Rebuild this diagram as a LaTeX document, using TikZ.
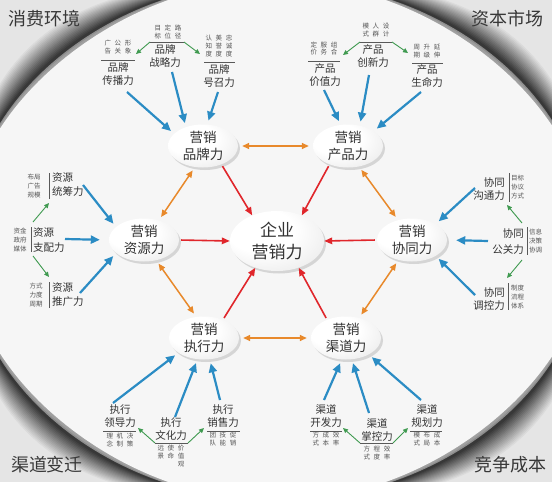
\documentclass[tikz,border=0pt]{standalone}
\usepackage{fontspec}
\setmainfont{Noto Sans CJK SC}
\usetikzlibrary{arrows.meta,shapes.geometric,shadows}
\definecolor{txt}{HTML}{333333}
\definecolor{subtxt}{HTML}{555555}
\definecolor{bluec}{HTML}{2B8CC4}
\definecolor{redc}{HTML}{E0262B}
\definecolor{orangec}{HTML}{E8892B}
\definecolor{greenc}{HTML}{3F9A50}
\definecolor{fieldc}{HTML}{F6F6F6}
\pgfdeclareradialshading{ovalshade}{\pgfpoint{-12bp}{12bp}}{color(0bp)=(white); color(18bp)=(white); color(40bp)=(black!9); color(62bp)=(black!30)}
\tikzset{
  oval/.style={ellipse, minimum width=70pt, minimum height=43pt, inner sep=0pt, align=center,
    text=txt, font=\fontsize{13.5}{17}\selectfont, shading=ovalshade,
    drop shadow={opacity=0.28, shadow xshift=2pt, shadow yshift=-2.5pt}},
  bigoval/.style={oval, minimum width=94pt, minimum height=60pt, font=\fontsize{17}{22}\selectfont},
  lab/.style={align=center, text=txt, font=\fontsize{10.5}{13}\selectfont, inner sep=0pt},
  tiny/.style={align=center, text=subtxt, font=\fontsize{6.5}{7.5}\selectfont, inner sep=0pt},
  tinylist/.style={align=center, text=subtxt, font=\fontsize{6.5}{9}\selectfont, inner sep=0pt},
  sepline/.style={draw=black!65, line width=0.6pt},
  barrow/.style={draw=bluec, line width=2.2pt, -{Triangle[length=9pt,width=8pt]}, shorten >=4pt},
  rarrow/.style={draw=redc, line width=1.6pt, -{Triangle[length=8pt,width=6.5pt]}, shorten <=2pt},
  oarrow/.style={draw=orangec, line width=1.5pt, {Triangle[length=7pt,width=6pt]}-{Triangle[length=7pt,width=6pt]}, shorten >=4pt, shorten <=4pt},
  garrow/.style={draw=greenc, line width=0.9pt, -{Triangle[length=5pt,width=4.5pt]}},
  cornertxt/.style={font=\fontsize{18}{18}\selectfont, text=black!78, inner sep=0pt}
}
\newcommand{\trio}[1]{\begin{tabular}{@{}c@{\hspace{3.6pt}}c@{\hspace{3.6pt}}c@{}}#1\end{tabular}}
\begin{document}
\begin{tikzpicture}[x=1pt,y=-1pt]
\useasboundingbox (0,0) rectangle (552,482);
% background
\begin{scope}
\clip (0,0) rectangle (552,482);
\fill[black!10] (0,0) rectangle (552,482);
\foreach \i in {18,17,...,1}{
  \pgfmathsetmacro\w{1.5*\i}
  \pgfmathtruncatemacro\c{82-4*\i}
  \fill[black!\c] plot[domain=0:360, samples=241, variable=\t]
    ({277+(312+\w*pow(sin(2*\t),2))*cos(\t)}, {241+(260+\w*pow(sin(2*\t),2))*sin(\t)}) -- cycle;
}
\foreach \j/\o in {3/0.25,2/0.45,1/0.7}{
  \fill[black!30, opacity=\o] plot[domain=0:360, samples=241, variable=\t]
    ({277+(312-1.6*\j*pow(sin(2*\t),2))*cos(\t)}, {241+(260-1.6*\j*pow(sin(2*\t),2))*sin(\t)}) -- cycle;
}
\fill[fieldc] plot[domain=0:360, samples=241, variable=\t]
    ({277+(312-6*pow(sin(2*\t),2))*cos(\t)}, {241+(260-6*pow(sin(2*\t),2))*sin(\t)}) -- cycle;
\end{scope}
% corner texts
\node[cornertxt] (k1) at (45,19) {消费环境};
\node[cornertxt] (k2) at (507,19) {资本市场};
\node[cornertxt] (k3) at (47,465) {渠道变迁};
\node[cornertxt] (k4) at (510,465) {竞争成本};
% ovals
\node[bigoval] (C) at (277,241) {企业\\营销力};
\node[oval] (B) at (203,146) {营销\\品牌力};
\node[oval] (P) at (348,146) {营销\\产品力};
\node[oval] (R) at (144,240) {营销\\资源力};
\node[oval] (X) at (412,240) {营销\\协同力};
\node[oval] (E) at (204,338) {营销\\执行力};
\node[oval] (Q) at (346,338) {营销\\渠道力};
% red arrows
\draw[rarrow] (B.-45) -- (C.134);
\draw[rarrow] (P.-135) -- (C.46);
\draw[rarrow] (R.east) -- (C.west);
\draw[rarrow] (X.west) -- (C.east);
\draw[rarrow] (E.44) -- (C.-129);
\draw[rarrow] (Q.136) -- (C.-51);
% orange arrows
\draw[oarrow] (B.east) -- (P.west);
\draw[oarrow] (B.-111) -- (R.53);
\draw[oarrow] (P.-62) -- (X.125);
\draw[oarrow] (R.-59) -- (E.110);
\draw[oarrow] (X.-124) -- (Q.57);
\draw[oarrow] (E.east) -- (Q.west);
% ---------- top left: brand ----------
\node[lab] (bz) at (165,56.5) {品牌\\战略力};
\node[tiny] (bzs) at (168,32.5) {\trio{目&定&路\\标&位&径}};
\coordinate (bzl) at (150,42); \coordinate (bzr) at (184,42);
\draw[sepline] (bzl) -- (bzr);
\node[lab] (bc) at (118,74.5) {品牌\\传播力};
\node[tiny] (bcs) at (118,48) {\trio{广&公&形\\告&关&象}};
\coordinate (bcl) at (101,60); \coordinate (bcr) at (135,60);
\draw[sepline] (bcl) -- (bcr);
\node[lab] (bh) at (219,76) {品牌\\号召力};
\node[tiny] (bhs) at (219,47) {\trio{认&美&忠\\知&誉&诚\\度&度&度}};
\coordinate (bhl) at (204,62); \coordinate (bhr) at (235,62);
\draw[sepline] (bhl) -- (bhr);
\coordinate (gb1) at (136,54); \coordinate (gb2) at (200,54);
\draw[garrow] (bzl) -- (gb1);
\draw[garrow] (bzr) -- (gb2);
\coordinate (tb1) at (127,92); \draw[barrow] (tb1) -- (B.157);
\coordinate (tb2) at (172,72); \draw[barrow] (tb2) -- (B.132);
\coordinate (tb3) at (218,92); \draw[barrow] (tb3) -- (B.79);
% ---------- top right: product ----------
\node[lab] (px) at (373,56.5) {产品\\创新力};
\node[tiny] (pxs) at (376,31) {\trio{模&人&设\\式&群&计}};
\coordinate (pxl) at (360,42); \coordinate (pxr) at (392,42);
\draw[sepline] (pxl) -- (pxr);
\node[lab] (pj) at (325,75.5) {产品\\价值力};
\node[tiny] (pjs) at (324,49.5) {\trio{定&服&组\\价&务&合}};
\coordinate (pjl) at (308,61); \coordinate (pjr) at (340,61);
\draw[sepline] (pjl) -- (pjr);
\node[lab] (ps) at (427,76.5) {产品\\生命力};
\node[tiny] (pss) at (427,52) {\trio{周&升&延\\期&级&伸}};
\coordinate (psl) at (412,63); \coordinate (psr) at (443,63);
\draw[sepline] (psl) -- (psr);
\coordinate (gp1) at (343,55); \coordinate (gp2) at (408,53);
\draw[garrow] (pxl) -- (gp1);
\draw[garrow] (pxr) -- (gp2);
\coordinate (tp1) at (324,90); \draw[barrow] (tp1) -- (P.109);
\coordinate (tp2) at (369,75); \draw[barrow] (tp2) -- (P.60);
\coordinate (tp3) at (421,92); \draw[barrow] (tp3) -- (P.30);
% ---------- left: resource ----------
\node[lab, anchor=west, align=left, font=\fontsize{10.5}{14}\selectfont] (rt) at (52,185) {资源\\统筹力};
\node[tinylist] (rts) at (34,186) {布局\\广告\\规模};
\draw[sepline] (49,173) -- (49,199);
\node[lab, anchor=west, align=left, font=\fontsize{10.5}{15}\selectfont] (rz) at (33,240.5) {资源\\支配力};
\node[tinylist] (rzs) at (20,239.5) {资金\\政府\\媒体};
\draw[sepline] (31,227) -- (31,252);
\node[lab, anchor=west, align=left, font=\fontsize{10.5}{14}\selectfont] (rp) at (52,295) {资源\\推广力};
\node[tinylist] (rps) at (36,295) {方式\\力度\\周期};
\draw[sepline] (49,282) -- (49,308);
\coordinate (gr0) at (33,222); \coordinate (gr1) at (49,203);
\coordinate (gr2) at (33,256); \coordinate (gr3) at (49,277);
\draw[garrow] (gr0) -- (gr1);
\draw[garrow] (gr2) -- (gr3);
\coordinate (tr1) at (83,185); \draw[barrow] (tr1) -- (R.155);
\coordinate (tr2) at (65,239); \draw[barrow, shorten >=9pt] (tr2) -- (R.west);
\coordinate (tr3) at (80,293); \draw[barrow] (tr3) -- (R.205);
% ---------- right: cooperation ----------
\node[lab, anchor=east, align=right, font=\fontsize{10.5}{13}\selectfont] (xg) at (505,189) {协同\\沟通力};
\node[tinylist, anchor=west] (xgs) at (511,187) {目标\\协议\\方式};
\draw[sepline] (509,173) -- (509,202);
\node[lab, anchor=east, align=right, font=\fontsize{10.5}{16}\selectfont] (xk) at (524,241.5) {协同\\公关力};
\node[tinylist, anchor=west] (xks) at (529,241) {信息\\决策\\协调};
\draw[sepline] (527,227) -- (527,255);
\node[lab, anchor=east, align=right, font=\fontsize{10.5}{13}\selectfont] (xt) at (505,299) {协同\\调控力};
\node[tinylist, anchor=west] (xts) at (511,297) {制度\\流程\\体系};
\draw[sepline] (508,283) -- (508,310);
\coordinate (gx0) at (522,223); \coordinate (gx1) at (507,205);
\coordinate (gx2) at (522,260); \coordinate (gx3) at (507,278);
\draw[garrow] (gx0) -- (gx1);
\draw[garrow] (gx2) -- (gx3);
\coordinate (tx1) at (475,188); \draw[barrow] (tx1) -- (X.34);
\coordinate (tx2) at (488,241); \draw[barrow, shorten >=9pt] (tx2) -- (X.east);
\coordinate (tx3) at (475,295); \draw[barrow] (tx3) -- (X.-34);
% ---------- bottom left: execution ----------
\node[lab] (el) at (120,416.5) {执行\\领导力};
\coordinate (ell) at (103,431); \coordinate (elr) at (136,431);
\draw[sepline] (ell) -- (elr);
\node[tiny] (els) at (120,440.5) {\trio{理&机&决\\念&制&策}};
\node[lab] (ew) at (171,429.5) {执行\\文化力};
\coordinate (ewl) at (155,443); \coordinate (ewr) at (188,443);
\draw[sepline] (ewl) -- (ewr);
\node[tiny] (ews) at (171,457) {\trio{远&使&价\\景&命&值\\&&观}};
\node[lab] (ex) at (223,416.5) {执行\\销售力};
\coordinate (exl) at (207,431); \coordinate (exr) at (240,431);
\draw[sepline] (exl) -- (exr);
\node[tiny] (exs) at (223,440) {\trio{团&技&促\\队&能&销}};
\coordinate (ge1) at (138,428); \coordinate (ge2) at (204,428);
\draw[garrow] (ewl) -- (ge1);
\draw[garrow] (ewr) -- (ge2);
\coordinate (te1) at (113,403); \draw[barrow] (te1) -- (E.210);
\coordinate (te2) at (175,417); \draw[barrow] (te2) -- (E.253);
\coordinate (te3) at (220,400); \draw[barrow] (te3) -- (E.-75);
% ---------- bottom right: channel ----------
\node[lab] (qk) at (326,416.5) {渠道\\开发力};
\coordinate (qkl) at (310,431); \coordinate (qkr) at (342,431);
\draw[sepline] (qkl) -- (qkr);
\node[tiny] (qks) at (326,440) {\trio{方&成&效\\式&本&率}};
\node[lab] (qz) at (377,430) {渠道\\掌控力};
\coordinate (qzl) at (360,443); \coordinate (qzr) at (393,443);
\draw[sepline] (qzl) -- (qzr);
\node[tiny] (qzs) at (377,453.5) {\trio{方&程&效\\式&度&率}};
\node[lab] (qg) at (427,416.5) {渠道\\规划力};
\coordinate (qgl) at (410,431); \coordinate (qgr) at (442,431);
\draw[sepline] (qgl) -- (qgr);
\node[tiny] (qgs) at (427,440) {\trio{模&布&成\\式&局&本}};
\coordinate (gq1) at (343,428); \coordinate (gq2) at (408,428);
\draw[garrow] (qzl) -- (gq1);
\draw[garrow] (qzr) -- (gq2);
\coordinate (tq1) at (324,400); \draw[barrow] (tq1) -- (Q.-101);
\coordinate (tq2) at (369,413); \draw[barrow] (tq2) -- (Q.-75);
\coordinate (tq3) at (421,400); \draw[barrow] (tq3) -- (Q.-36);
\end{tikzpicture}
\end{document}
